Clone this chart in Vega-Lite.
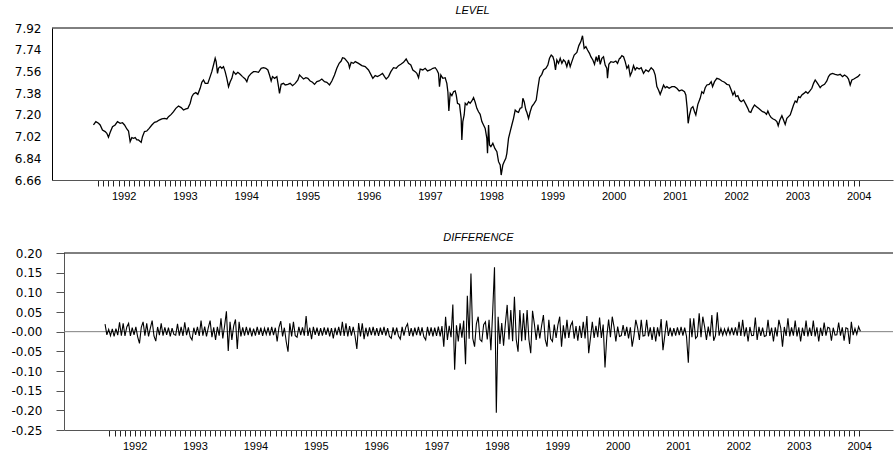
{
"$schema":"https://vega.github.io/schema/vega-lite/v6.json",
"background":"white",
"padding":{"left":0,"top":5,"right":1,"bottom":0},
"config":{"view":{"stroke":null},"font":"Liberation Sans",
"axis":{"labelFont":"Liberation Sans","labelFontSize":11,"labelColor":"black","grid":false,"title":null,"labelFlush":false,"labelBound":false,"labelOverlap":false},
"axisY":{"labelFont":"DejaVu Sans","labelFontSize":12},
"title":{"font":"Liberation Sans","fontSize":11,"fontStyle":"italic","fontWeight":"normal","color":"black","frame":"group","anchor":"middle"}},
"spacing":31,
"datasets":{
"level":[
{"t":1991.507,"v":7.116},{"t":1991.546,"v":7.144},{"t":1991.589,"v":7.130},{"t":1991.616,"v":7.116},{"t":1991.654,"v":7.074},{"t":1991.698,"v":7.061},{"t":1991.725,"v":7.047},{"t":1991.752,"v":7.014},{"t":1991.780,"v":7.055},{"t":1991.818,"v":7.102},{"t":1991.861,"v":7.116},{"t":1991.899,"v":7.144},{"t":1991.943,"v":7.130},{"t":1991.981,"v":7.135},{"t":1992.014,"v":7.116},{"t":1992.052,"v":7.083},{"t":1992.079,"v":7.066},{"t":1992.106,"v":6.978},{"t":1992.133,"v":7.011},{"t":1992.161,"v":7.005},{"t":1992.188,"v":7.011},{"t":1992.215,"v":6.992},{"t":1992.242,"v":6.992},{"t":1992.286,"v":6.972},{"t":1992.307,"v":7.019},{"t":1992.340,"v":7.061},{"t":1992.378,"v":7.066},{"t":1992.416,"v":7.088},{"t":1992.460,"v":7.116},{"t":1992.503,"v":7.138},{"t":1992.541,"v":7.144},{"t":1992.580,"v":7.157},{"t":1992.623,"v":7.166},{"t":1992.667,"v":7.171},{"t":1992.705,"v":7.166},{"t":1992.732,"v":7.185},{"t":1992.776,"v":7.204},{"t":1992.814,"v":7.226},{"t":1992.852,"v":7.254},{"t":1992.895,"v":7.273},{"t":1992.939,"v":7.260},{"t":1992.977,"v":7.240},{"t":1993.015,"v":7.249},{"t":1993.048,"v":7.254},{"t":1993.086,"v":7.296},{"t":1993.113,"v":7.351},{"t":1993.140,"v":7.373},{"t":1993.178,"v":7.384},{"t":1993.211,"v":7.370},{"t":1993.249,"v":7.420},{"t":1993.276,"v":7.470},{"t":1993.303,"v":7.489},{"t":1993.331,"v":7.461},{"t":1993.374,"v":7.461},{"t":1993.412,"v":7.517},{"t":1993.439,"v":7.558},{"t":1993.467,"v":7.613},{"t":1993.494,"v":7.669},{"t":1993.510,"v":7.641},{"t":1993.532,"v":7.544},{"t":1993.548,"v":7.586},{"t":1993.576,"v":7.600},{"t":1993.603,"v":7.586},{"t":1993.630,"v":7.600},{"t":1993.657,"v":7.558},{"t":1993.684,"v":7.503},{"t":1993.712,"v":7.434},{"t":1993.739,"v":7.475},{"t":1993.766,"v":7.503},{"t":1993.793,"v":7.558},{"t":1993.831,"v":7.536},{"t":1993.864,"v":7.553},{"t":1993.902,"v":7.536},{"t":1993.940,"v":7.517},{"t":1993.984,"v":7.497},{"t":1994.011,"v":7.475},{"t":1994.038,"v":7.517},{"t":1994.082,"v":7.544},{"t":1994.120,"v":7.558},{"t":1994.158,"v":7.558},{"t":1994.201,"v":7.553},{"t":1994.245,"v":7.586},{"t":1994.283,"v":7.591},{"t":1994.321,"v":7.586},{"t":1994.354,"v":7.572},{"t":1994.381,"v":7.530},{"t":1994.408,"v":7.481},{"t":1994.430,"v":7.517},{"t":1994.463,"v":7.503},{"t":1994.501,"v":7.517},{"t":1994.528,"v":7.434},{"t":1994.544,"v":7.378},{"t":1994.571,"v":7.453},{"t":1994.610,"v":7.461},{"t":1994.637,"v":7.448},{"t":1994.680,"v":7.453},{"t":1994.718,"v":7.461},{"t":1994.757,"v":7.442},{"t":1994.800,"v":7.461},{"t":1994.844,"v":7.489},{"t":1994.871,"v":7.530},{"t":1994.898,"v":7.517},{"t":1994.936,"v":7.497},{"t":1994.974,"v":7.508},{"t":1995.007,"v":7.503},{"t":1995.045,"v":7.481},{"t":1995.083,"v":7.470},{"t":1995.116,"v":7.453},{"t":1995.154,"v":7.475},{"t":1995.192,"v":7.481},{"t":1995.235,"v":7.497},{"t":1995.279,"v":7.475},{"t":1995.317,"v":7.470},{"t":1995.361,"v":7.448},{"t":1995.399,"v":7.481},{"t":1995.442,"v":7.530},{"t":1995.480,"v":7.586},{"t":1995.518,"v":7.627},{"t":1995.551,"v":7.646},{"t":1995.573,"v":7.674},{"t":1995.605,"v":7.669},{"t":1995.644,"v":7.646},{"t":1995.671,"v":7.627},{"t":1995.687,"v":7.591},{"t":1995.714,"v":7.635},{"t":1995.752,"v":7.627},{"t":1995.780,"v":7.641},
{"t":1995.834,"v":7.627},{"t":1995.888,"v":7.608},{"t":1995.943,"v":7.600},{"t":1995.997,"v":7.572},{"t":1996.035,"v":7.536},{"t":1996.068,"v":7.503},{"t":1996.106,"v":7.525},{"t":1996.144,"v":7.517},{"t":1996.188,"v":7.530},{"t":1996.226,"v":7.544},{"t":1996.259,"v":7.517},{"t":1996.286,"v":7.497},{"t":1996.324,"v":7.517},{"t":1996.362,"v":7.558},{"t":1996.405,"v":7.591},{"t":1996.449,"v":7.586},{"t":1996.487,"v":7.608},{"t":1996.525,"v":7.619},{"t":1996.569,"v":7.635},{"t":1996.612,"v":7.663},{"t":1996.650,"v":7.627},{"t":1996.688,"v":7.613},{"t":1996.721,"v":7.572},{"t":1996.759,"v":7.558},{"t":1996.786,"v":7.544},{"t":1996.814,"v":7.508},{"t":1996.841,"v":7.580},{"t":1996.884,"v":7.572},{"t":1996.922,"v":7.586},{"t":1996.961,"v":7.564},{"t":1997.004,"v":7.572},{"t":1997.048,"v":7.586},{"t":1997.086,"v":7.591},{"t":1997.113,"v":7.572},{"t":1997.140,"v":7.544},{"t":1997.156,"v":7.434},{"t":1997.178,"v":7.530},{"t":1997.211,"v":7.503},{"t":1997.249,"v":7.508},{"t":1997.276,"v":7.461},{"t":1997.293,"v":7.392},{"t":1997.309,"v":7.232},{"t":1997.331,"v":7.378},{"t":1997.358,"v":7.359},{"t":1997.385,"v":7.392},{"t":1997.412,"v":7.398},{"t":1997.429,"v":7.365},{"t":1997.450,"v":7.296},{"t":1997.483,"v":7.287},{"t":1997.510,"v":7.171},{"t":1997.521,"v":6.992},{"t":1997.537,"v":7.144},{"t":1997.559,"v":7.199},{"t":1997.576,"v":7.296},{"t":1997.603,"v":7.282},{"t":1997.630,"v":7.309},{"t":1997.657,"v":7.296},{"t":1997.684,"v":7.315},{"t":1997.712,"v":7.343},{"t":1997.739,"v":7.304},{"t":1997.766,"v":7.254},{"t":1997.793,"v":7.226},{"t":1997.820,"v":7.204},{"t":1997.848,"v":7.144},{"t":1997.875,"v":7.116},{"t":1997.902,"v":7.088},{"t":1997.929,"v":7.005},{"t":1997.940,"v":6.881},{"t":1997.957,"v":7.116},{"t":1997.973,"v":6.950},{"t":1997.995,"v":6.936},{"t":1998.027,"v":6.964},{"t":1998.060,"v":6.922},{"t":1998.093,"v":6.895},{"t":1998.120,"v":6.812},{"t":1998.147,"v":6.784},{"t":1998.163,"v":6.701},{"t":1998.190,"v":6.784},{"t":1998.212,"v":6.812},{"t":1998.239,"v":6.840},{"t":1998.256,"v":6.881},{"t":1998.283,"v":7.005},{"t":1998.310,"v":7.061},{"t":1998.337,"v":7.116},{"t":1998.365,"v":7.171},{"t":1998.392,"v":7.240},{"t":1998.419,"v":7.226},{"t":1998.446,"v":7.221},{"t":1998.473,"v":7.254},{"t":1998.501,"v":7.260},{"t":1998.517,"v":7.337},{"t":1998.539,"v":7.309},{"t":1998.566,"v":7.240},{"t":1998.582,"v":7.221},{"t":1998.610,"v":7.171},{"t":1998.637,"v":7.226},{"t":1998.664,"v":7.268},{"t":1998.702,"v":7.296},{"t":1998.735,"v":7.323},{"t":1998.762,"v":7.420},{"t":1998.789,"v":7.508},{"t":1998.827,"v":7.536},{"t":1998.854,"v":7.572},{"t":1998.893,"v":7.586},{"t":1998.925,"v":7.613},{"t":1998.952,"v":7.669},{"t":1998.980,"v":7.696},{"t":1999.007,"v":7.682},{"t":1999.029,"v":7.646},{"t":1999.050,"v":7.572},{"t":1999.072,"v":7.655},{"t":1999.099,"v":7.627},{"t":1999.127,"v":7.669},{"t":1999.154,"v":7.627},{"t":1999.181,"v":7.655},{"t":1999.208,"v":7.641},{"t":1999.235,"v":7.600},{"t":1999.263,"v":7.655},{"t":1999.290,"v":7.600},{"t":1999.317,"v":7.641},{"t":1999.355,"v":7.696},{"t":1999.399,"v":7.718},{"t":1999.431,"v":7.774},{"t":1999.464,"v":7.807},{"t":1999.491,"v":7.856},{"t":1999.518,"v":7.751},{"t":1999.546,"v":7.765},{"t":1999.573,"v":7.738},{"t":1999.605,"v":7.710},{"t":1999.627,"v":7.682},{"t":1999.660,"v":7.655},{"t":1999.687,"v":7.619},{"t":1999.714,"v":7.682},{"t":1999.736,"v":7.641},{"t":1999.758,"v":7.696},{"t":1999.780,"v":7.619},{"t":1999.807,"v":7.669},{"t":1999.834,"v":7.682},{"t":1999.861,"v":7.613},{"t":1999.888,"v":7.586},{"t":1999.899,"v":7.503},{"t":1999.921,"v":7.619},{"t":1999.954,"v":7.641},{"t":1999.997,"v":7.635},{"t":2000.035,"v":7.646},{"t":2000.063,"v":7.627},{"t":2000.095,"v":7.669},
{"t":2000.106,"v":7.669},{"t":2000.133,"v":7.691},{"t":2000.161,"v":7.682},{"t":2000.188,"v":7.641},{"t":2000.215,"v":7.586},{"t":2000.242,"v":7.608},{"t":2000.269,"v":7.525},{"t":2000.297,"v":7.558},{"t":2000.324,"v":7.608},{"t":2000.351,"v":7.572},{"t":2000.378,"v":7.591},{"t":2000.416,"v":7.580},{"t":2000.449,"v":7.591},{"t":2000.487,"v":7.544},{"t":2000.525,"v":7.572},{"t":2000.569,"v":7.558},{"t":2000.612,"v":7.591},{"t":2000.650,"v":7.572},{"t":2000.678,"v":7.530},{"t":2000.705,"v":7.434},{"t":2000.732,"v":7.406},{"t":2000.759,"v":7.370},{"t":2000.786,"v":7.406},{"t":2000.814,"v":7.448},{"t":2000.841,"v":7.425},{"t":2000.868,"v":7.434},{"t":2000.906,"v":7.420},{"t":2000.950,"v":7.434},{"t":2000.993,"v":7.434},{"t":2001.031,"v":7.420},{"t":2001.069,"v":7.398},{"t":2001.113,"v":7.406},{"t":2001.156,"v":7.392},{"t":2001.178,"v":7.365},{"t":2001.200,"v":7.254},{"t":2001.216,"v":7.130},{"t":2001.238,"v":7.199},{"t":2001.265,"v":7.254},{"t":2001.293,"v":7.268},{"t":2001.320,"v":7.226},{"t":2001.341,"v":7.199},{"t":2001.374,"v":7.287},{"t":2001.412,"v":7.337},{"t":2001.439,"v":7.392},{"t":2001.467,"v":7.378},{"t":2001.494,"v":7.425},{"t":2001.521,"v":7.448},{"t":2001.559,"v":7.453},{"t":2001.592,"v":7.475},{"t":2001.614,"v":7.434},{"t":2001.646,"v":7.475},{"t":2001.684,"v":7.503},{"t":2001.722,"v":7.497},{"t":2001.766,"v":7.481},{"t":2001.810,"v":7.470},{"t":2001.848,"v":7.453},{"t":2001.886,"v":7.448},{"t":2001.918,"v":7.406},{"t":2001.946,"v":7.365},{"t":2001.973,"v":7.392},{"t":2001.995,"v":7.351},{"t":2002.027,"v":7.359},{"t":2002.054,"v":7.323},{"t":2002.082,"v":7.309},{"t":2002.120,"v":7.323},{"t":2002.158,"v":7.287},{"t":2002.190,"v":7.254},{"t":2002.212,"v":7.226},{"t":2002.239,"v":7.221},{"t":2002.267,"v":7.254},{"t":2002.299,"v":7.282},{"t":2002.332,"v":7.268},{"t":2002.365,"v":7.254},{"t":2002.397,"v":7.240},{"t":2002.430,"v":7.226},{"t":2002.463,"v":7.221},{"t":2002.495,"v":7.204},{"t":2002.517,"v":7.232},{"t":2002.544,"v":7.199},{"t":2002.571,"v":7.177},{"t":2002.604,"v":7.166},{"t":2002.637,"v":7.157},{"t":2002.664,"v":7.144},{"t":2002.686,"v":7.110},{"t":2002.713,"v":7.157},{"t":2002.746,"v":7.193},{"t":2002.773,"v":7.157},{"t":2002.800,"v":7.121},{"t":2002.827,"v":7.171},{"t":2002.854,"v":7.185},{"t":2002.882,"v":7.199},{"t":2002.909,"v":7.240},{"t":2002.936,"v":7.282},{"t":2002.963,"v":7.315},{"t":2002.990,"v":7.304},{"t":2003.018,"v":7.351},{"t":2003.045,"v":7.343},{"t":2003.072,"v":7.365},{"t":2003.105,"v":7.378},{"t":2003.137,"v":7.392},{"t":2003.170,"v":7.378},{"t":2003.203,"v":7.398},{"t":2003.235,"v":7.420},{"t":2003.263,"v":7.461},{"t":2003.290,"v":7.489},{"t":2003.317,"v":7.470},{"t":2003.344,"v":7.448},{"t":2003.371,"v":7.425},{"t":2003.399,"v":7.442},{"t":2003.442,"v":7.453},{"t":2003.480,"v":7.481},{"t":2003.507,"v":7.517},{"t":2003.535,"v":7.536},{"t":2003.573,"v":7.544},{"t":2003.616,"v":7.536},{"t":2003.660,"v":7.530},{"t":2003.698,"v":7.536},{"t":2003.736,"v":7.517},{"t":2003.769,"v":7.530},{"t":2003.807,"v":7.517},{"t":2003.834,"v":7.497},{"t":2003.861,"v":7.448},{"t":2003.888,"v":7.489},{"t":2003.921,"v":7.497},{"t":2003.954,"v":7.508},{"t":2003.986,"v":7.517},{"t":2004.024,"v":7.536}
],
"diff":[
{"t":1991.51,"v":0.019},{"t":1991.54,"v":-0.008},{"t":1991.57,"v":0.006},{"t":1991.60,"v":-0.010},{"t":1991.63,"v":0.007},{"t":1991.66,"v":-0.012},{"t":1991.69,"v":0.008},{"t":1991.72,"v":-0.009},{"t":1991.75,"v":0.024},{"t":1991.78,"v":-0.010},{"t":1991.81,"v":0.021},{"t":1991.84,"v":-0.011},{"t":1991.87,"v":0.012},{"t":1991.90,"v":0.021},{"t":1991.93,"v":-0.011},{"t":1991.96,"v":0.010},{"t":1991.99,"v":-0.008},{"t":1992.02,"v":0.012},{"t":1992.05,"v":-0.013},{"t":1992.08,"v":-0.030},{"t":1992.11,"v":0.011},{"t":1992.14,"v":0.025},{"t":1992.17,"v":-0.010},{"t":1992.20,"v":0.021},{"t":1992.23,"v":-0.012},{"t":1992.26,"v":0.009},{"t":1992.29,"v":0.028},{"t":1992.32,"v":-0.011},{"t":1992.35,"v":-0.024},{"t":1992.38,"v":0.012},{"t":1992.41,"v":-0.009},{"t":1992.44,"v":0.021},{"t":1992.47,"v":-0.010},{"t":1992.50,"v":0.011},{"t":1992.53,"v":-0.008},{"t":1992.56,"v":0.010},{"t":1992.59,"v":-0.012},{"t":1992.62,"v":0.009},{"t":1992.65,"v":-0.007},{"t":1992.68,"v":-0.009},{"t":1992.71,"v":0.020},{"t":1992.74,"v":-0.010},{"t":1992.77,"v":0.012},{"t":1992.80,"v":-0.011},{"t":1992.83,"v":0.024},{"t":1992.86,"v":-0.009},{"t":1992.89,"v":0.011},{"t":1992.92,"v":-0.013},{"t":1992.95,"v":-0.021},{"t":1992.98,"v":0.010},{"t":1993.01,"v":-0.008},{"t":1993.04,"v":0.012},{"t":1993.07,"v":-0.011},{"t":1993.10,"v":0.028},{"t":1993.13,"v":-0.010},{"t":1993.16,"v":0.013},{"t":1993.19,"v":-0.012},{"t":1993.22,"v":0.010},{"t":1993.25,"v":0.028},{"t":1993.28,"v":-0.014},{"t":1993.31,"v":0.011},{"t":1993.34,"v":-0.021},{"t":1993.37,"v":0.012},{"t":1993.40,"v":-0.010},{"t":1993.43,"v":0.034},{"t":1993.46,"v":-0.017},{"t":1993.49,"v":0.015},{"t":1993.52,"v":0.052},{"t":1993.55,"v":-0.049},{"t":1993.58,"v":0.025},{"t":1993.61,"v":-0.021},{"t":1993.64,"v":0.014},{"t":1993.67,"v":0.031},{"t":1993.70,"v":-0.044},{"t":1993.73,"v":0.025},{"t":1993.76,"v":-0.012},{"t":1993.79,"v":0.011},{"t":1993.82,"v":-0.010},{"t":1993.85,"v":0.012},{"t":1993.88,"v":-0.009},{"t":1993.91,"v":0.010},{"t":1993.94,"v":-0.012},{"t":1993.97,"v":0.008},{"t":1994.00,"v":-0.010},{"t":1994.03,"v":0.012},{"t":1994.06,"v":-0.008},{"t":1994.09,"v":0.010},{"t":1994.12,"v":-0.011},{"t":1994.15,"v":0.009},{"t":1994.18,"v":-0.007},{"t":1994.21,"v":0.011},{"t":1994.24,"v":-0.010},{"t":1994.27,"v":0.012},{"t":1994.30,"v":-0.009},{"t":1994.33,"v":0.010},{"t":1994.36,"v":-0.025},{"t":1994.39,"v":0.011},{"t":1994.42,"v":0.027},{"t":1994.45,"v":-0.012},{"t":1994.48,"v":0.010},{"t":1994.51,"v":-0.025},{"t":1994.54,"v":-0.051},{"t":1994.57,"v":0.021},{"t":1994.60,"v":-0.012},{"t":1994.63,"v":0.025},{"t":1994.66,"v":-0.010},{"t":1994.69,"v":-0.014},{"t":1994.72,"v":0.012},{"t":1994.75,"v":-0.009},{"t":1994.78,"v":0.011},{"t":1994.81,"v":-0.010},{"t":1994.84,"v":0.040},{"t":1994.87,"v":-0.011},{"t":1994.90,"v":0.010},{"t":1994.93,"v":-0.019},{"t":1994.96,"v":0.012},{"t":1994.99,"v":-0.008},{"t":1995.02,"v":0.010},{"t":1995.05,"v":-0.011},{"t":1995.08,"v":0.009},{"t":1995.11,"v":-0.010},{"t":1995.14,"v":0.011},{"t":1995.17,"v":-0.008},{"t":1995.20,"v":0.010},{"t":1995.23,"v":-0.012},{"t":1995.26,"v":0.009},{"t":1995.29,"v":-0.017},{"t":1995.32,"v":0.010},{"t":1995.35,"v":-0.009},{"t":1995.38,"v":0.012},{"t":1995.41,"v":-0.010},{"t":1995.44,"v":0.025},{"t":1995.47,"v":-0.011},{"t":1995.50,"v":0.021},{"t":1995.53,"v":-0.012},{"t":1995.56,"v":0.014},{"t":1995.59,"v":-0.010},{"t":1995.62,"v":0.012},{"t":1995.65,"v":-0.011},{"t":1995.68,"v":-0.044},{"t":1995.71,"v":0.022},{"t":1995.74,"v":-0.012},{"t":1995.77,"v":0.021},{"t":1995.80,"v":-0.019},{"t":1995.83,"v":0.010},{"t":1995.86,"v":-0.012},{"t":1995.89,"v":0.011},{"t":1995.92,"v":-0.009},{"t":1995.95,"v":0.012},{"t":1995.98,"v":-0.010},{"t":1996.01,"v":0.009},{"t":1996.04,"v":-0.011},{"t":1996.07,"v":0.010},{"t":1996.10,"v":-0.008},{"t":1996.13,"v":0.012},{"t":1996.16,"v":-0.010},{"t":1996.19,"v":0.009},{"t":1996.22,"v":-0.012},{"t":1996.25,"v":-0.017},{"t":1996.28,"v":0.011},{"t":1996.31,"v":-0.009},{"t":1996.34,"v":0.010},{"t":1996.37,"v":-0.011},{"t":1996.40,"v":-0.019},{"t":1996.43,"v":0.012},{"t":1996.46,"v":-0.010},{"t":1996.49,"v":0.011},{"t":1996.52,"v":0.020},{"t":1996.55,"v":-0.011},{"t":1996.58,"v":0.009},{"t":1996.61,"v":-0.012},{"t":1996.64,"v":0.010},{"t":1996.67,"v":-0.009},{"t":1996.70,"v":0.012},{"t":1996.73,"v":-0.010},{"t":1996.76,"v":0.011},{"t":1996.79,"v":-0.013},{"t":1996.82,"v":-0.021},{"t":1996.85,"v":0.012},{"t":1996.88,"v":-0.010},{"t":1996.91,"v":0.011},{"t":1996.94,"v":-0.012},{"t":1996.97,"v":0.010},{"t":1997.00,"v":-0.011},{"t":1997.03,"v":0.013},{"t":1997.06,"v":-0.012},{"t":1997.09,"v":0.014},{"t":1997.12,"v":-0.038},{"t":1997.15,"v":0.038},{"t":1997.18,"v":-0.021},{"t":1997.21,"v":0.015},{"t":1997.24,"v":-0.014},{"t":1997.27,"v":0.069},{"t":1997.30,"v":-0.097},{"t":1997.33,"v":0.016},{"t":1997.36,"v":-0.025},{"t":1997.39,"v":0.021},{"t":1997.42,"v":-0.015},{"t":1997.45,"v":0.028},{"t":1997.48,"v":-0.083},{"t":1997.51,"v":0.091},{"t":1997.54,"v":-0.018},{"t":1997.57,"v":0.148},{"t":1997.60,"v":-0.017},{"t":1997.63,"v":-0.038},{"t":1997.66,"v":0.020},{"t":1997.69,"v":0.038},{"t":1997.72,"v":-0.020},{"t":1997.75,"v":-0.025},{"t":1997.78,"v":0.018},{"t":1997.81,"v":0.025},{"t":1997.84,"v":-0.020},{"t":1997.87,"v":0.030},{"t":1997.90,"v":-0.047},{"t":1997.93,"v":0.051},{"t":1997.96,"v":0.164},{"t":1997.99,"v":-0.206},{"t":1998.02,"v":0.038},{"t":1998.05,"v":-0.031},{"t":1998.08,"v":0.022},{"t":1998.11,"v":-0.036},{"t":1998.14,"v":0.020},{"t":1998.17,"v":0.068},{"t":1998.20,"v":-0.020},{"t":1998.23,"v":0.055},{"t":1998.26,"v":-0.024},{"t":1998.29,"v":0.089},{"t":1998.32,"v":-0.020},{"t":1998.35,"v":-0.051},{"t":1998.38,"v":0.055},{"t":1998.41,"v":-0.024},{"t":1998.44,"v":0.047},{"t":1998.47,"v":-0.022},{"t":1998.50,"v":0.055},{"t":1998.53,"v":-0.020},{"t":1998.56,"v":-0.055},{"t":1998.59,"v":0.053},{"t":1998.62,"v":0.020},{"t":1998.65,"v":-0.021},{"t":1998.68,"v":0.018},{"t":1998.71,"v":-0.017},{"t":1998.74,"v":0.015},{"t":1998.77,"v":0.042},{"t":1998.80,"v":-0.020},{"t":1998.83,"v":-0.038},{"t":1998.86,"v":0.030},{"t":1998.89,"v":-0.018},{"t":1998.92,"v":-0.025},{"t":1998.95,"v":0.018},{"t":1998.98,"v":-0.016},{"t":1999.01,"v":0.017},{"t":1999.04,"v":0.038},{"t":1999.07,"v":-0.038},{"t":1999.10,"v":0.016},{"t":1999.13,"v":-0.017},{"t":1999.16,"v":0.030},{"t":1999.19,"v":-0.016},{"t":1999.22,"v":0.015},{"t":1999.25,"v":0.025},{"t":1999.28,"v":-0.018},{"t":1999.31,"v":0.014},{"t":1999.34,"v":-0.023},{"t":1999.37,"v":0.015},{"t":1999.40,"v":-0.016},{"t":1999.43,"v":0.025},{"t":1999.46,"v":-0.017},{"t":1999.49,"v":0.040},{"t":1999.52,"v":-0.055},{"t":1999.55,"v":-0.015},{"t":1999.58,"v":0.025},{"t":1999.61,"v":-0.016},{"t":1999.64,"v":0.015},{"t":1999.67,"v":-0.014},{"t":1999.70,"v":0.036},{"t":1999.73,"v":-0.016},{"t":1999.76,"v":0.018},{"t":1999.79,"v":-0.091},{"t":1999.82,"v":-0.012},{"t":1999.85,"v":0.031},{"t":1999.88,"v":-0.014},{"t":1999.91,"v":0.038},{"t":1999.94,"v":0.012},{"t":1999.97,"v":-0.025},{"t":2000.00,"v":0.013},{"t":2000.03,"v":-0.012},{"t":2000.06,"v":-0.010},{"t":2000.09,"v":0.017},{"t":2000.12,"v":-0.011},{"t":2000.15,"v":0.012},{"t":2000.18,"v":-0.017},{"t":2000.21,"v":0.011},{"t":2000.24,"v":-0.038},{"t":2000.27,"v":-0.010},{"t":2000.30,"v":0.030},{"t":2000.33,"v":0.010},{"t":2000.36,"v":-0.021},{"t":2000.39,"v":0.030},{"t":2000.42,"v":-0.011},{"t":2000.45,"v":-0.010},{"t":2000.48,"v":0.030},{"t":2000.51,"v":-0.012},{"t":2000.54,"v":0.011},{"t":2000.57,"v":-0.021},{"t":2000.60,"v":0.012},{"t":2000.63,"v":-0.025},{"t":2000.66,"v":0.011},{"t":2000.69,"v":-0.012},{"t":2000.72,"v":0.032},{"t":2000.75,"v":-0.047},{"t":2000.78,"v":-0.010},{"t":2000.81,"v":0.028},{"t":2000.84,"v":-0.011},{"t":2000.87,"v":0.010},{"t":2000.90,"v":-0.012},{"t":2000.93,"v":0.009},{"t":2000.96,"v":-0.010},{"t":2000.99,"v":0.011},{"t":2001.02,"v":-0.009},{"t":2001.05,"v":0.012},{"t":2001.08,"v":-0.010},{"t":2001.11,"v":0.010},{"t":2001.14,"v":-0.012},{"t":2001.17,"v":-0.079},{"t":2001.20,"v":0.034},{"t":2001.23,"v":-0.014},{"t":2001.26,"v":0.034},{"t":2001.29,"v":-0.017},{"t":2001.32,"v":-0.012},{"t":2001.35,"v":0.047},{"t":2001.38,"v":-0.014},{"t":2001.41,"v":0.038},{"t":2001.44,"v":0.012},{"t":2001.47,"v":-0.021},{"t":2001.50,"v":0.013},{"t":2001.53,"v":-0.012},{"t":2001.56,"v":0.042},{"t":2001.59,"v":-0.023},{"t":2001.62,"v":-0.010},{"t":2001.65,"v":0.049},{"t":2001.68,"v":-0.010},{"t":2001.71,"v":0.008},{"t":2001.74,"v":-0.009},{"t":2001.77,"v":0.007},{"t":2001.80,"v":-0.008},{"t":2001.83,"v":0.009},{"t":2001.86,"v":-0.007},{"t":2001.89,"v":0.010},{"t":2001.92,"v":-0.009},{"t":2001.95,"v":0.011},{"t":2001.98,"v":-0.010},{"t":2002.01,"v":0.025},{"t":2002.04,"v":-0.011},{"t":2002.07,"v":0.030},{"t":2002.10,"v":-0.012},{"t":2002.13,"v":0.011},{"t":2002.16,"v":-0.025},{"t":2002.19,"v":0.012},{"t":2002.22,"v":-0.010},{"t":2002.25,"v":-0.009},{"t":2002.28,"v":0.036},{"t":2002.31,"v":-0.021},{"t":2002.34,"v":0.012},{"t":2002.37,"v":-0.011},{"t":2002.40,"v":0.010},{"t":2002.43,"v":-0.012},{"t":2002.46,"v":-0.010},{"t":2002.49,"v":0.030},{"t":2002.52,"v":-0.011},{"t":2002.55,"v":0.010},{"t":2002.58,"v":-0.025},{"t":2002.61,"v":0.011},{"t":2002.64,"v":-0.012},{"t":2002.67,"v":0.030},{"t":2002.70,"v":0.010},{"t":2002.73,"v":-0.038},{"t":2002.76,"v":0.012},{"t":2002.79,"v":-0.011},{"t":2002.82,"v":0.034},{"t":2002.85,"v":-0.012},{"t":2002.88,"v":0.011},{"t":2002.91,"v":-0.010},{"t":2002.94,"v":0.028},{"t":2002.97,"v":-0.012},{"t":2003.00,"v":0.011},{"t":2003.03,"v":-0.025},{"t":2003.06,"v":0.010},{"t":2003.09,"v":-0.011},{"t":2003.12,"v":0.028},{"t":2003.15,"v":-0.012},{"t":2003.18,"v":0.010},{"t":2003.21,"v":-0.011},{"t":2003.24,"v":0.028},{"t":2003.27,"v":-0.012},{"t":2003.30,"v":0.011},{"t":2003.33,"v":-0.025},{"t":2003.36,"v":0.010},{"t":2003.39,"v":-0.011},{"t":2003.42,"v":0.023},{"t":2003.45,"v":-0.010},{"t":2003.48,"v":0.011},{"t":2003.51,"v":0.009},{"t":2003.54,"v":-0.023},{"t":2003.57,"v":0.010},{"t":2003.60,"v":-0.009},{"t":2003.63,"v":-0.008},{"t":2003.66,"v":0.023},{"t":2003.69,"v":-0.010},{"t":2003.72,"v":0.011},{"t":2003.75,"v":-0.023},{"t":2003.78,"v":0.010},{"t":2003.81,"v":0.008},{"t":2003.84,"v":-0.031},{"t":2003.87,"v":0.025},{"t":2003.90,"v":-0.009},{"t":2003.93,"v":0.008},{"t":2003.96,"v":-0.007},{"t":2003.99,"v":0.013},{"t":2004.02,"v":0.001}
]
},
"vconcat":[
{
"width":841,"height":152,
"title":{"text":"LEVEL","offset":6},
"resolve":{"axis":{"y":"independent"}},
"layer":[
{"data":{"name":"level"},"mark":{"type":"line","color":"black","strokeWidth":1.3,"strokeJoin":"miter"},
"encoding":{
"x":{"field":"t","type":"quantitative","scale":{"domain":[1990.83,2004.56],"nice":false,"zero":false},
"axis":{"title":null,"values":[1991.5833,1991.6667,1991.75,1991.8333,1991.9167,1992,1992.0833,1992.1667,1992.25,1992.3333,1992.4167,1992.5,1992.5833,1992.6667,1992.75,1992.8333,1992.9167,1993,1993.0833,1993.1667,1993.25,1993.3333,1993.4167,1993.5,1993.5833,1993.6667,1993.75,1993.8333,1993.9167,1994,1994.0833,1994.1667,1994.25,1994.3333,1994.4167,1994.5,1994.5833,1994.6667,1994.75,1994.8333,1994.9167,1995,1995.0833,1995.1667,1995.25,1995.3333,1995.4167,1995.5,1995.5833,1995.6667,1995.75,1995.8333,1995.9167,1996,1996.0833,1996.1667,1996.25,1996.3333,1996.4167,1996.5,1996.5833,1996.6667,1996.75,1996.8333,1996.9167,1997,1997.0833,1997.1667,1997.25,1997.3333,1997.4167,1997.5,1997.5833,1997.6667,1997.75,1997.8333,1997.9167,1998,1998.0833,1998.1667,1998.25,1998.3333,1998.4167,1998.5,1998.5833,1998.6667,1998.75,1998.8333,1998.9167,1999,1999.0833,1999.1667,1999.25,1999.3333,1999.4167,1999.5,1999.5833,1999.6667,1999.75,1999.8333,1999.9167,2000,2000.0833,2000.1667,2000.25,2000.3333,2000.4167,2000.5,2000.5833,2000.6667,2000.75,2000.8333,2000.9167,2001,2001.0833,2001.1667,2001.25,2001.3333,2001.4167,2001.5,2001.5833,2001.6667,2001.75,2001.8333,2001.9167,2002,2002.0833,2002.1667,2002.25,2002.3333,2002.4167,2002.5,2002.5833,2002.6667,2002.75,2002.8333,2002.9167,2003,2003.0833,2003.1667,2003.25,2003.3333,2003.4167,2003.5,2003.5833,2003.6667,2003.75,2003.8333,2003.9167,2004],
"labelExpr":"abs(datum.value - round(datum.value)) < 0.001 ? format(datum.value, 'd') : ''",
"labelOverlap":false,"tickSize":6,"tickColor":"#222222","domainColor":"#555555","labelPadding":4}},
"y":{"field":"v","type":"quantitative","scale":{"domain":[6.66,7.92],"nice":false,"zero":false},
"axis":{"title":null,"values":[6.66,6.84,7.02,7.2,7.38,7.56,7.74,7.92],"format":".2f","labelOverlap":false,"domain":true,"ticks":false,"labelPadding":11,"domainColor":"black","minExtent":52,"maxExtent":52}}
}},
{"data":{"values":[{}]},"mark":{"type":"rule","color":"black","strokeWidth":1},"encoding":{"y":{"datum":7.92,"type":"quantitative","axis":null}}}
]
},
{
"width":841,"height":177,
"title":{"text":"DIFFERENCE","offset":4,"dx":6},
"resolve":{"axis":{"x":"independent","y":"independent"}},
"layer":[
{"data":{"values":[{}]},"mark":{"type":"rule","color":"#808080","strokeWidth":1},"encoding":{"x":{"datum":1990.83,"type":"quantitative","axis":null},"x2":{"datum":2004.56},"y":{"datum":0,"type":"quantitative","axis":null}}},
{"data":{"name":"diff"},"mark":{"type":"line","color":"black","strokeWidth":1.1},
"encoding":{
"x":{"field":"t","type":"quantitative","scale":{"domain":[1990.83,2004.56],"range":[12,841],"nice":false,"zero":false},
"axis":{"title":null,"values":[1991.5833,1991.6667,1991.75,1991.8333,1991.9167,1992,1992.0833,1992.1667,1992.25,1992.3333,1992.4167,1992.5,1992.5833,1992.6667,1992.75,1992.8333,1992.9167,1993,1993.0833,1993.1667,1993.25,1993.3333,1993.4167,1993.5,1993.5833,1993.6667,1993.75,1993.8333,1993.9167,1994,1994.0833,1994.1667,1994.25,1994.3333,1994.4167,1994.5,1994.5833,1994.6667,1994.75,1994.8333,1994.9167,1995,1995.0833,1995.1667,1995.25,1995.3333,1995.4167,1995.5,1995.5833,1995.6667,1995.75,1995.8333,1995.9167,1996,1996.0833,1996.1667,1996.25,1996.3333,1996.4167,1996.5,1996.5833,1996.6667,1996.75,1996.8333,1996.9167,1997,1997.0833,1997.1667,1997.25,1997.3333,1997.4167,1997.5,1997.5833,1997.6667,1997.75,1997.8333,1997.9167,1998,1998.0833,1998.1667,1998.25,1998.3333,1998.4167,1998.5,1998.5833,1998.6667,1998.75,1998.8333,1998.9167,1999,1999.0833,1999.1667,1999.25,1999.3333,1999.4167,1999.5,1999.5833,1999.6667,1999.75,1999.8333,1999.9167,2000,2000.0833,2000.1667,2000.25,2000.3333,2000.4167,2000.5,2000.5833,2000.6667,2000.75,2000.8333,2000.9167,2001,2001.0833,2001.1667,2001.25,2001.3333,2001.4167,2001.5,2001.5833,2001.6667,2001.75,2001.8333,2001.9167,2002,2002.0833,2002.1667,2002.25,2002.3333,2002.4167,2002.5,2002.5833,2002.6667,2002.75,2002.8333,2002.9167,2003,2003.0833,2003.1667,2003.25,2003.3333,2003.4167,2003.5,2003.5833,2003.6667,2003.75,2003.8333,2003.9167,2004],
"labelExpr":"abs(datum.value - round(datum.value)) < 0.001 ? format(datum.value, 'd') : ''",
"labelOverlap":false,"tickSize":6,"tickColor":"#222222","domainColor":"#555555","labelPadding":4}},
"y":{"field":"v","type":"quantitative","scale":{"domain":[-0.25,0.2],"nice":false,"zero":false},
"axis":{"title":null,"offset":-12,"values":[-0.25,-0.2,-0.15,-0.1,-0.05,0,0.05,0.1,0.15,0.2],"labelExpr":"datum.value == 0 ? '-0.00' : replace(format(datum.value, '.2f'), '\u2212', '-')","labelOverlap":false,"domain":true,"ticks":true,"tickSize":8,"tickColor":"#555555","labelPadding":14,"domainColor":"#555555"}}
}},
{"data":{"values":[{}]},"mark":{"type":"rule","color":"black","strokeWidth":1},"encoding":{"x":{"datum":1990.83,"type":"quantitative","axis":null},"x2":{"datum":2004.56},"y":{"datum":0.2,"type":"quantitative","axis":null}}}
]
}
]
}
